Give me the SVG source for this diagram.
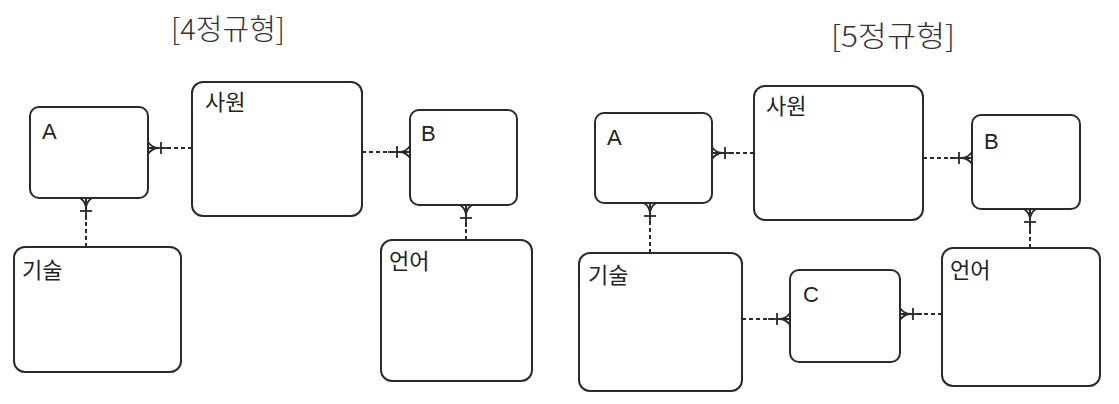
<svg xmlns="http://www.w3.org/2000/svg" width="1119" height="404" viewBox="0 0 1119 404">
<style>
.box{fill:#fff;stroke:#2a2a2a;stroke-width:2}
.lbl{font-family:"Liberation Sans","Noto Sans CJK KR",sans-serif;font-size:22px;fill:#222}
.ttl{font-family:"Noto Sans CJK KR","Noto Sans",sans-serif;font-size:29px;fill:#333;font-weight:300}
.con{fill:none;stroke:#2a2a2a;stroke-width:2;stroke-dasharray:4 3}
</style>
<defs>
<marker id="cf" markerUnits="userSpaceOnUse" viewBox="-30 -10 32 20" refX="0" refY="0" markerWidth="32" markerHeight="20" orient="auto" overflow="visible">
<g fill="none" stroke="#2a2a2a" stroke-width="1.8">
<path d="M-22 0H0"/>
<path d="M-13 -6V6"/>
<path d="M-11 0Q-4 0 0 -6M-11 0L0 0M-11 0Q-4 0 0 6"/>
</g>
</marker>
</defs>
<rect width="1119" height="404" fill="#fff"/>
<text class="ttl" x="228" y="40" text-anchor="middle" textLength="114" lengthAdjust="spacingAndGlyphs">[4정규형]</text>
<text class="ttl" x="893" y="47" text-anchor="middle" textLength="124" lengthAdjust="spacingAndGlyphs">[5정규형]</text>
<g id="connectors">
<path class="con" d="M192 148H148" marker-end="url(#cf)"/>
<path class="con" d="M362 152H410" marker-end="url(#cf)"/>
<path class="con" d="M86 247V198" marker-end="url(#cf)"/>
<path class="con" d="M466 240V205" marker-end="url(#cf)"/>
<path class="con" d="M754 153H712" marker-end="url(#cf)"/>
<path class="con" d="M923 158H972" marker-end="url(#cf)"/>
<path class="con" d="M650 253V203" marker-end="url(#cf)"/>
<path class="con" d="M742 319H790" marker-end="url(#cf)"/>
<path class="con" d="M942 314H900" marker-end="url(#cf)"/>
<path class="con" d="M1030 248V209" marker-end="url(#cf)"/>
</g>
<g id="L_A"><rect class="box" x="30" y="107" width="118" height="91" rx="9"/><text class="lbl" x="42" y="139">A</text></g>
<g id="L_emp"><rect class="box" x="192" y="82" width="170" height="134" rx="11"/><text class="lbl" x="205" y="110">사원</text></g>
<g id="L_B"><rect class="box" x="410" y="110" width="107" height="95" rx="9"/><text class="lbl" x="421" y="141">B</text></g>
<g id="L_skill"><rect class="box" x="14" y="247" width="167" height="125" rx="11"/><text class="lbl" x="22" y="278">기술</text></g>
<g id="L_lang"><rect class="box" x="381" y="240" width="151" height="141" rx="11"/><text class="lbl" x="389" y="269">언어</text></g>
<g id="R_A"><rect class="box" x="595" y="113" width="117" height="90" rx="9"/><text class="lbl" x="607" y="145">A</text></g>
<g id="R_emp"><rect class="box" x="754" y="86" width="169" height="134" rx="11"/><text class="lbl" x="766" y="114">사원</text></g>
<g id="R_B"><rect class="box" x="972" y="115" width="108" height="94" rx="9"/><text class="lbl" x="984" y="149">B</text></g>
<g id="R_skill"><rect class="box" x="579" y="253" width="163" height="138" rx="11"/><text class="lbl" x="588" y="283">기술</text></g>
<g id="R_C"><rect class="box" x="790" y="270" width="110" height="92" rx="9"/><text class="lbl" x="803" y="302">C</text></g>
<g id="R_lang"><rect class="box" x="942" y="248" width="158" height="138" rx="11"/><text class="lbl" x="950" y="278">언어</text></g>
</svg>
